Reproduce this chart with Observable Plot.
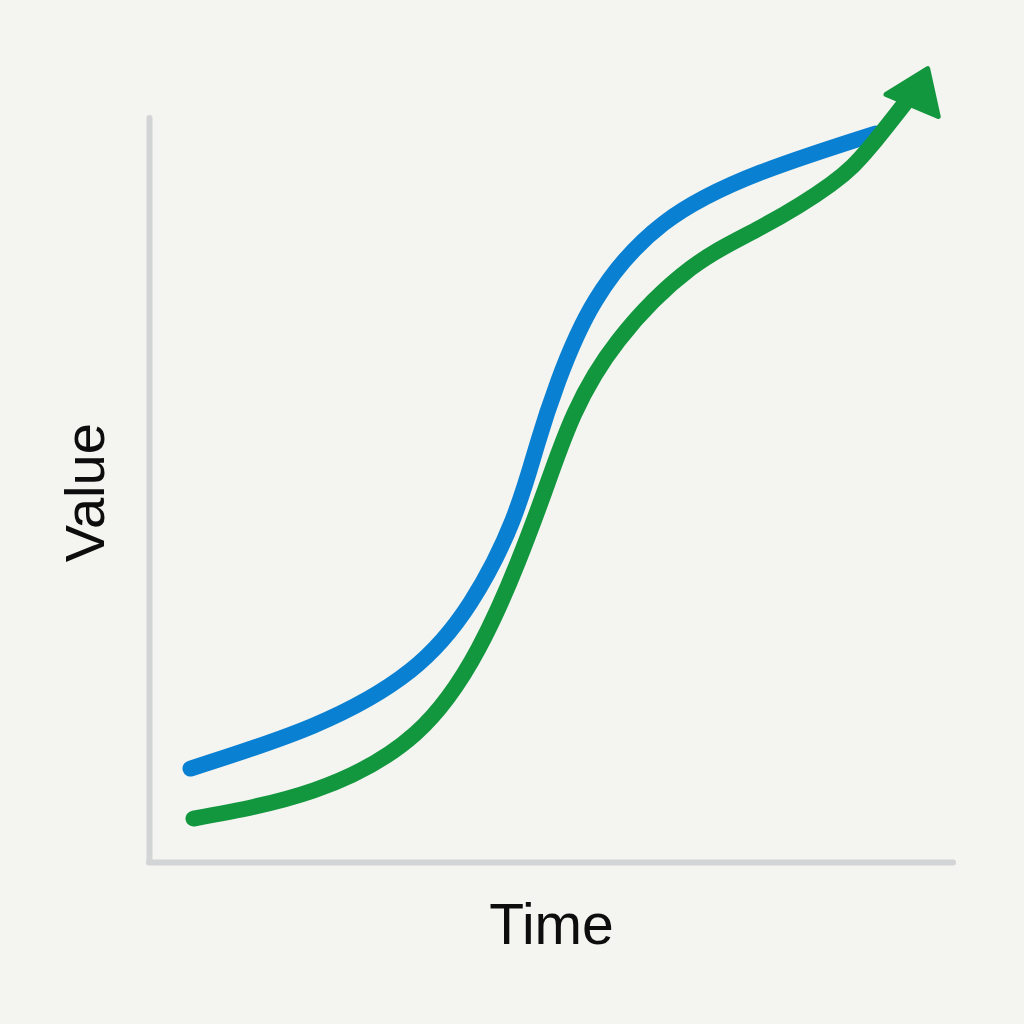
<!DOCTYPE html>
<html>
<head>
<meta charset="utf-8">
<script src="https://cdn.jsdelivr.net/npm/d3@7"></script>
<script src="https://cdn.jsdelivr.net/npm/@observablehq/plot@0.6"></script>
<style>
  html, body { margin: 0; padding: 0; background: #f4f4f0; }
  #chart svg { display: block; }
</style>
</head>
<body>
<div id="chart"></div>
<script>
// Series values (Time 0–100, Value 0–100)
const blueTime  = [5.10, 20.40, 32.46, 39.93, 45.15, 48.26, 50.87, 55.47, 63.93, 76.00, 90.30];
const blueValue = [12.63, 18.41, 25.81, 34.95, 45.97, 56.32, 64.78, 75.54, 85.89, 92.74, 97.98];

const greenTime  = [5.47, 20.40, 33.08, 40.92, 45.90, 49.63, 52.86, 58.33, 67.29, 76.00, 84.70, 89.68, 94.90];
const greenValue = [5.91, 9.68, 17.34, 28.76, 40.59, 51.34, 60.35, 70.16, 79.84, 85.35, 91.13, 96.24, 103.36];

// Arrow head at the end of the green series
const arrowTime = [95.5];
const arrowValue = [103.4];

const axisLabels = ["Time", "Value"];

const blue = blueTime.map((t, i) => ({time: t, value: blueValue[i]}));
const green = greenTime.map((t, i) => ({time: t, value: greenValue[i]}));
const arrow = arrowTime.map((t, i) => ({time: t, value: arrowValue[i]}));

const BLUE = "#0a80d2";
const GREEN = "#12973f";
const AXIS = "#d2d4d6";

// isosceles arrow-head symbol (wider than equilateral)
const arrowHead = {
  draw(context, size) {
    const r = Math.sqrt(size / Math.PI);
    const h = 1.9 * r, b = 2.7 * r;
    context.moveTo(0, -2 * h / 3);
    context.lineTo(b / 2, h / 3);
    context.lineTo(-b / 2, h / 3);
    context.closePath();
  }
};

const chart = Plot.plot({
  width: 1024,
  height: 1024,
  marginLeft: 149,
  marginRight: 71,
  marginTop: 118,
  marginBottom: 162,
  x: {domain: [0, 100], axis: null},
  y: {domain: [0, 100], axis: null},
  style: {background: "transparent", fontFamily: "'Liberation Sans', Arial, sans-serif"},
  marks: [
    Plot.ruleX([0], {y1: 0, y2: 100, stroke: AXIS, strokeWidth: 6, strokeLinecap: "round"}),
    Plot.ruleY([0], {x1: 0, x2: 100, stroke: AXIS, strokeWidth: 6, strokeLinecap: "round"}),
    Plot.line(blue, {x: "time", y: "value", stroke: BLUE, strokeWidth: 16, strokeLinecap: "round", strokeLinejoin: "round", curve: "natural"}),
    Plot.line(green, {x: "time", y: "value", stroke: GREEN, strokeWidth: 16, strokeLinecap: "round", strokeLinejoin: "round", curve: "natural"}),
    Plot.dot(arrow, {x: "time", y: "value", symbol: arrowHead, r: 21, rotate: 23, fill: GREEN, stroke: GREEN, strokeWidth: 5, strokeLinejoin: "round"}),
    Plot.text([axisLabels[0]], {x: 50, y: -10.9, text: d => d, fontSize: 57, fill: "#0d0d0d", lineAnchor: "bottom", textAnchor: "middle"}),
    Plot.text([axisLabels[1]], {x: -5.7, y: 49.7, text: d => d, fontSize: 56, fill: "#0d0d0d", lineAnchor: "bottom", textAnchor: "middle", rotate: -90})
  ]
});
document.getElementById("chart").appendChild(chart);
</script>
</body>
</html>
